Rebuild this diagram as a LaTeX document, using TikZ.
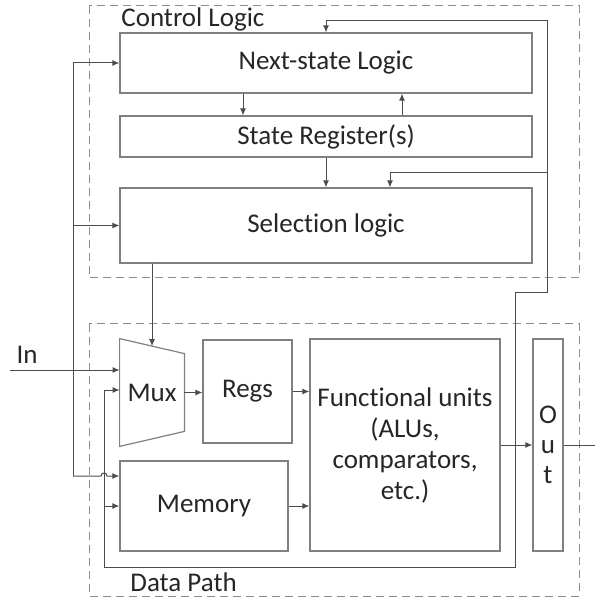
\documentclass[tikz,border=0pt]{standalone}
\usepackage{fontspec}
\setmainfont[Ligatures=NoCommon]{Carlito}
\usetikzlibrary{arrows.meta,shadows}

\begin{document}
\begin{tikzpicture}[x=0.5pt,y=-0.5pt,
		font=\fontsize{13.5}{15.5}\selectfont, text=black!85,
		box/.style={draw=black!50, line width=0.6pt, fill=white, inner sep=0pt, align=center,
			drop shadow={shadow xshift=0.5pt, shadow yshift=-0.5pt, opacity=0.2}},
		wire/.style={draw=black!70, line width=0.5pt},
		arr/.style={wire, -{Latex[length=3.5pt,width=3pt]}},
		frame/.style={draw=black!45, dash pattern=on 4pt off 2.5pt, line width=0.5pt}]
		\useasboundingbox (0,0) rectangle (595,597);
		%%%%%%%%%%%%%
		\draw[frame] (89,6) rectangle (579,278);
		\draw[frame] (89,324) rectangle (579,596);
		\node[anchor=west, inner sep=0pt] (ctrllbl) at (121,19) {Control Logic};
		\node[anchor=west, inner sep=0pt] (dplbl) at (130,582) {Data Path};
		\node (inlbl) at (27,355) {In};
		%%%%%%%%%%%%%
		\node[box, minimum width=206pt, minimum height=30pt] (nsl) at (326,63) {Next-state Logic};
		\node[box, minimum width=206pt, minimum height=20.5pt] (sreg) at (326,136.5) {State Register(s)};
		\node[box, minimum width=206pt, minimum height=37.5pt] (sel) at (326,225.5) {Selection logic};
		\node[inner sep=0pt, minimum width=32pt, minimum height=53.5pt] (mux) at (152,392.5) {Mux};
		\draw[draw=black!50, line width=0.6pt] (mux.north west) -- ([yshift=-7.5pt]mux.north east)
			-- ([yshift=7.5pt]mux.south east) -- (mux.south west) -- cycle;
		\node[box, minimum width=44.5pt, minimum height=51.5pt] (regs) at (247.5,391.5) {Regs};
		\node[box, minimum width=95pt, minimum height=106pt] (fu) at (405,445) {Functional units\\(ALUs,\\comparators,\\etc.)};
		\node[box, minimum width=84pt, minimum height=45pt] (mem) at (204,506) {Memory};
		\node[box, minimum width=15pt, minimum height=106pt, font=\fontsize{13.5}{15}\selectfont] (out) at (548,445) {O\\u\\t};
		%%%%%%%%%%%%%
		\coordinate (in) at (10,370);
		\coordinate (bustop) at (73,63);
		\coordinate (bussel) at (73,225.5);
		\coordinate (busmem) at (73,476);
		\coordinate (hop) at (104,476);
		\coordinate (tap) at (515,445);
		\coordinate (fbup) at (515,293);
		\coordinate (fbtop) at (547,21);
		\coordinate (fbsel) at (547,173);
		\coordinate (fbbot) at (104,567);
		\coordinate (outend) at (595,445);
		%%%%%%%%%%%%%
		\draw[arr] ([xshift=-41.5pt]nsl.south) -- ([xshift=-41.5pt]sreg.north);
		\draw[arr] ([xshift=38pt]sreg.north) -- ([xshift=38pt]nsl.south);
		\draw[arr] (sreg) -- (sel);
		\draw[arr] ([xshift=-87pt]sel.south) -- ([yshift=-3.75pt]mux.north);
		\draw[wire] (bustop) -- (busmem);
		\draw[arr] (bustop) -- (nsl.west);
		\draw[arr] (bussel) -- (sel.west);
		\draw[arr] (busmem) -- ([xshift=-1.5pt]hop) arc[start angle=180, end angle=0, radius=1.5pt] -- (busmem -| mem.west);
		\draw[arr] (in) -- (in -| mux.west);
		\draw[arr] (mux.east) -- (mux.east -| regs.west);
		\draw[arr] (regs.east) -- (regs.east -| fu.west);
		\draw[arr] (mem.east) -- (mem.east -| fu.west);
		\draw[arr] (fu.east) -- (out.west);
		\draw[wire] (out.east) -- (outend);
		\draw[arr] (tap) -- (fbup) -| (fbtop) -| (nsl.north);
		\draw[arr] (fbsel) -| ([xshift=32pt]sel.north);
		\draw[arr] (tap) |- (fbbot) |- ([yshift=1.25pt]mux.west);
		\draw[arr] (fbbot |- mem) -- (mem.west);
	\end{tikzpicture}
\end{document}
